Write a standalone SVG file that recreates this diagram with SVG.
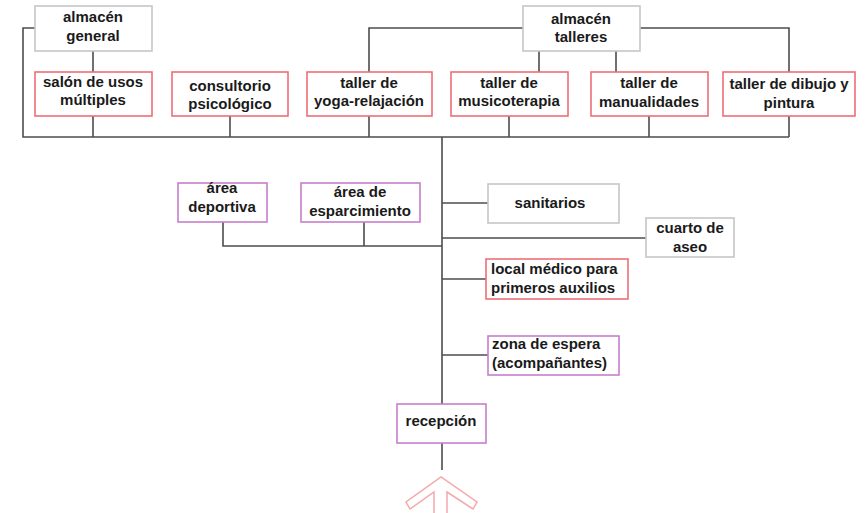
<svg xmlns="http://www.w3.org/2000/svg" width="865" height="513" viewBox="0 0 865 513">
  <style>
    .box { fill: #ffffff; stroke-width: 1.6; }
    .gray { stroke: #c6c6c6; }
    .red { stroke: #ef6f76; }
    .purple { stroke: #c77fcc; }
    .lbl { font-family: "Liberation Sans", Arial, sans-serif; font-weight: bold; font-size: 15px; fill: #1a1a1a; }
    .c { text-anchor: middle; }
    .wire { fill: none; stroke: #4d4d4d; stroke-width: 1.6; }
  </style>
  <rect width="865" height="513" fill="#ffffff"/>

  <g id="connectors">
    <!-- top spine -->
    <path class="wire" d="M35 28 H23 V137 H789"/>
    <path class="wire" d="M93 51 V72 M93 116 V137"/>
    <path class="wire" d="M230 116 V137"/>
    <path class="wire" d="M523 28 H369 V72 M369 116 V137"/>
    <path class="wire" d="M539 51 V72 M509 116 V137"/>
    <path class="wire" d="M616 51 V72 M649 116 V137"/>
    <path class="wire" d="M640 28 H789 V72 M789 116 V137"/>
    <!-- main trunk -->
    <path class="wire" d="M442 137 V404 M442 443 V470"/>
    <path class="wire" d="M223 222 V246 H442 M364 222 V246"/>
    <path class="wire" d="M442 203 H488"/>
    <path class="wire" d="M442 238 H646"/>
    <path class="wire" d="M442 279 H486"/>
    <path class="wire" d="M442 355 H488"/>
  </g>

  <!-- entrance arrow (outline) -->
  <g id="entrance">
    <path d="M447 514 V492 L473 509 L477 502 L441 477 L406 502 L410 509 L434 492 V514" fill="none" stroke="#f7a8a8" stroke-width="1.5"/>
  </g>

  <g id="almacen-general">
    <rect class="box gray" x="35" y="6" width="117" height="45"/>
    <text class="lbl c" x="93" y="22">almacén</text>
    <text class="lbl c" x="93" y="41">general</text>
  </g>
  <g id="almacen-talleres">
    <rect class="box gray" x="523" y="6" width="117" height="45"/>
    <text class="lbl c" x="581" y="24">almacén</text>
    <text class="lbl c" x="581" y="42">talleres</text>
  </g>
  <g id="salon-usos">
    <rect class="box red" x="35" y="72" width="117" height="44"/>
    <text class="lbl c" x="93" y="87">salón de usos</text>
    <text class="lbl c" x="93" y="105">múltiples</text>
  </g>
  <g id="consultorio">
    <rect class="box red" x="172" y="72" width="116" height="44"/>
    <text class="lbl c" x="230" y="91">consultorio</text>
    <text class="lbl c" x="230" y="109">psicológico</text>
  </g>
  <g id="taller-yoga">
    <rect class="box red" x="307" y="72" width="125" height="44"/>
    <text class="lbl c" x="369" y="88">taller de</text>
    <text class="lbl c" x="369" y="106">yoga-relajación</text>
  </g>
  <g id="taller-musicoterapia">
    <rect class="box red" x="451" y="72" width="117" height="44"/>
    <text class="lbl c" x="509" y="88">taller de</text>
    <text class="lbl c" x="509" y="106">musicoterapia</text>
  </g>
  <g id="taller-manualidades">
    <rect class="box red" x="591" y="72" width="117" height="44"/>
    <text class="lbl c" x="649" y="88">taller de</text>
    <text class="lbl c" x="649" y="107">manualidades</text>
  </g>
  <g id="taller-dibujo">
    <rect class="box red" x="723" y="72" width="132" height="44"/>
    <text class="lbl c" x="789" y="89">taller de dibujo y</text>
    <text class="lbl c" x="789" y="108">pintura</text>
  </g>
  <g id="area-deportiva">
    <rect class="box purple" x="178" y="183" width="89" height="39"/>
    <text class="lbl c" x="222" y="193">área</text>
    <text class="lbl c" x="222" y="212">deportiva</text>
  </g>
  <g id="area-esparcimiento">
    <rect class="box purple" x="301" y="183" width="119" height="39"/>
    <text class="lbl c" x="360" y="197">área de</text>
    <text class="lbl c" x="360" y="216">esparcimiento</text>
  </g>
  <g id="sanitarios">
    <rect class="box gray" x="488" y="184" width="131" height="39"/>
    <text class="lbl c" x="550" y="208">sanitarios</text>
  </g>
  <g id="cuarto-aseo">
    <rect class="box gray" x="646" y="218" width="88" height="39"/>
    <text class="lbl c" x="690" y="233">cuarto de</text>
    <text class="lbl c" x="690" y="252">aseo</text>
  </g>
  <g id="local-medico">
    <rect class="box red" x="486" y="259" width="142" height="40"/>
    <text class="lbl" x="491" y="274">local médico para</text>
    <text class="lbl" x="491" y="293">primeros auxilios</text>
  </g>
  <g id="zona-espera">
    <rect class="box purple" x="488" y="336" width="131" height="39"/>
    <text class="lbl" x="492" y="349">zona de espera</text>
    <text class="lbl" x="492" y="368">(acompañantes)</text>
  </g>
  <g id="recepcion">
    <rect class="box purple" x="397" y="404" width="89" height="39"/>
    <text class="lbl c" x="441" y="426">recepción</text>
  </g>
</svg>
